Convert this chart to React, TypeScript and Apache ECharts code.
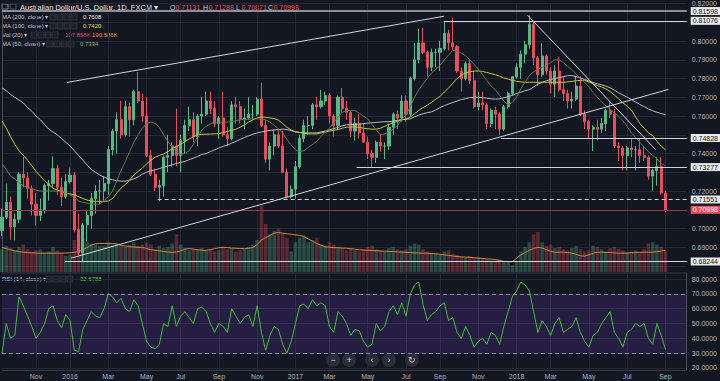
import React, { useEffect, useRef } from 'react';
import * as echarts from 'echarts';

// ---------- data (weekly) ----------
const START_WEEK = '2015-09-07';
const WEEK_COUNT = 162; // 157 weeks of prices + empty space on the right
const MONTHS = ['Jan', 'Feb', 'Mar', 'Apr', 'May', 'Jun', 'Jul', 'Aug', 'Sep', 'Oct', 'Nov', 'Dec'];

const OPEN = [
  0.6990, 0.7060, 0.7140, 0.7010, 0.7050, 0.7290, 0.7270, 0.7215, 0.7130, 0.7070,
  0.7100, 0.7230, 0.7240, 0.7320, 0.7220, 0.7170, 0.7250, 0.7285, 0.6995, 0.6870,
  0.7020, 0.7070, 0.7160, 0.7200, 0.7200, 0.7240, 0.7420, 0.7520, 0.7580, 0.7500,
  0.7650, 0.7580, 0.7730, 0.7680, 0.7600, 0.7390, 0.7290, 0.7220, 0.7230, 0.7380,
  0.7390, 0.7440, 0.7390, 0.7470, 0.7550, 0.7580, 0.7490, 0.7600, 0.7610, 0.7680,
  0.7640, 0.7560, 0.7590, 0.7500, 0.7480, 0.7660, 0.7650, 0.7580, 0.7590, 0.7610,
  0.7610, 0.7690, 0.7550, 0.7370, 0.7440, 0.7500, 0.7440, 0.7300, 0.7170, 0.7210,
  0.7330, 0.7480, 0.7550, 0.7550, 0.7660, 0.7650, 0.7680, 0.7710, 0.7600, 0.7550,
  0.7700, 0.7640, 0.7620, 0.7520, 0.7560, 0.7510, 0.7460, 0.7400, 0.7380, 0.7460,
  0.7440, 0.7440, 0.7540, 0.7610, 0.7590, 0.7680, 0.7610, 0.7800, 0.7900, 0.7990,
  0.7940, 0.7860, 0.7940, 0.7940, 0.7960, 0.8040, 0.7990, 0.7970, 0.7840, 0.7800,
  0.7880, 0.7790, 0.7650, 0.7670, 0.7660, 0.7560, 0.7630, 0.7610, 0.7530, 0.7650,
  0.7720, 0.7810, 0.7860, 0.7930, 0.7980, 0.8090, 0.7910, 0.7820, 0.7920, 0.7840,
  0.7770, 0.7840, 0.7740, 0.7720, 0.7680, 0.7690, 0.7760, 0.7610, 0.7570, 0.7530,
  0.7540, 0.7530, 0.7560, 0.7630, 0.7610, 0.7440, 0.7430, 0.7390, 0.7430, 0.7420,
  0.7420, 0.7390, 0.7380, 0.7280, 0.7310, 0.7330, 0.7190,
];
const HIGH = [
  0.7105, 0.7240, 0.7170, 0.7080, 0.7300, 0.7382, 0.7300, 0.7230, 0.7190, 0.7160,
  0.7240, 0.7260, 0.7385, 0.7340, 0.7270, 0.7290, 0.7325, 0.7300, 0.7080, 0.7030,
  0.7100, 0.7190, 0.7230, 0.7260, 0.7280, 0.7440, 0.7530, 0.7620, 0.7680, 0.7680,
  0.7670, 0.7740, 0.7835, 0.7720, 0.7700, 0.7420, 0.7320, 0.7260, 0.7390, 0.7500,
  0.7460, 0.7640, 0.7500, 0.7580, 0.7650, 0.7620, 0.7610, 0.7700, 0.7730, 0.7730,
  0.7680, 0.7600, 0.7730, 0.7540, 0.7680, 0.7700, 0.7680, 0.7640, 0.7700, 0.7660,
  0.7700, 0.7778, 0.7580, 0.7460, 0.7530, 0.7530, 0.7520, 0.7320, 0.7230, 0.7360,
  0.7500, 0.7580, 0.7600, 0.7670, 0.7700, 0.7740, 0.7730, 0.7720, 0.7610, 0.7710,
  0.7750, 0.7680, 0.7630, 0.7590, 0.7610, 0.7560, 0.7490, 0.7420, 0.7470, 0.7500,
  0.7460, 0.7560, 0.7620, 0.7630, 0.7710, 0.7710, 0.7810, 0.7990, 0.8065, 0.8070,
  0.7950, 0.7960, 0.7960, 0.8000, 0.8100, 0.8060, 0.8125, 0.7980, 0.7860, 0.7890,
  0.7900, 0.7840, 0.7730, 0.7730, 0.7670, 0.7640, 0.7650, 0.7620, 0.7660, 0.7730,
  0.7810, 0.7880, 0.7950, 0.8000, 0.8136, 0.8100, 0.7920, 0.7988, 0.7930, 0.7860,
  0.7870, 0.7917, 0.7810, 0.7740, 0.7730, 0.7810, 0.7813, 0.7630, 0.7580, 0.7550,
  0.7580, 0.7590, 0.7640, 0.7677, 0.7640, 0.7460, 0.7440, 0.7440, 0.7480, 0.7440,
  0.7480, 0.7440, 0.7390, 0.7320, 0.7380, 0.7380, 0.7200,
];
const LOW = [
  0.6960, 0.7050, 0.6940, 0.6937, 0.7030, 0.7220, 0.7160, 0.7070, 0.7016, 0.7040,
  0.7080, 0.7150, 0.7220, 0.7180, 0.7120, 0.7160, 0.7240, 0.6980, 0.6858, 0.6827,
  0.6930, 0.7000, 0.7080, 0.7130, 0.7150, 0.7180, 0.7390, 0.7400, 0.7480, 0.7490,
  0.7490, 0.7550, 0.7670, 0.7570, 0.7380, 0.7280, 0.7200, 0.7145, 0.7170, 0.7300,
  0.7330, 0.7330, 0.7300, 0.7400, 0.7520, 0.7460, 0.7440, 0.7560, 0.7600, 0.7610,
  0.7540, 0.7480, 0.7490, 0.7440, 0.7470, 0.7560, 0.7560, 0.7530, 0.7580, 0.7580,
  0.7600, 0.7540, 0.7350, 0.7310, 0.7390, 0.7430, 0.7300, 0.7160, 0.7160, 0.7160,
  0.7320, 0.7460, 0.7500, 0.7530, 0.7580, 0.7640, 0.7660, 0.7560, 0.7490, 0.7530,
  0.7620, 0.7580, 0.7490, 0.7470, 0.7480, 0.7460, 0.7370, 0.7330, 0.7350, 0.7410,
  0.7370, 0.7420, 0.7500, 0.7530, 0.7570, 0.7570, 0.7600, 0.7790, 0.7880, 0.7930,
  0.7810, 0.7840, 0.7860, 0.7840, 0.7950, 0.7950, 0.7950, 0.7830, 0.7730, 0.7790,
  0.7770, 0.7640, 0.7630, 0.7630, 0.7530, 0.7540, 0.7530, 0.7500, 0.7520, 0.7640,
  0.7710, 0.7800, 0.7800, 0.7880, 0.7960, 0.7870, 0.7760, 0.7810, 0.7820, 0.7720,
  0.7700, 0.7730, 0.7680, 0.7640, 0.7640, 0.7680, 0.7600, 0.7530, 0.7480, 0.7412,
  0.7470, 0.7510, 0.7520, 0.7590, 0.7430, 0.7360, 0.7310, 0.7310, 0.7380, 0.7310,
  0.7350, 0.7360, 0.7260, 0.7202, 0.7230, 0.7180, 0.7087,
];
const CLOSE = [
  0.7060, 0.7140, 0.7010, 0.7050, 0.7290, 0.7270, 0.7215, 0.7130, 0.7070, 0.7100,
  0.7230, 0.7240, 0.7320, 0.7220, 0.7170, 0.7250, 0.7285, 0.6995, 0.6870, 0.7020,
  0.7070, 0.7160, 0.7200, 0.7200, 0.7240, 0.7420, 0.7520, 0.7580, 0.7500, 0.7650,
  0.7580, 0.7730, 0.7680, 0.7600, 0.7390, 0.7290, 0.7220, 0.7230, 0.7380, 0.7390,
  0.7440, 0.7390, 0.7470, 0.7550, 0.7580, 0.7490, 0.7600, 0.7610, 0.7680, 0.7640,
  0.7560, 0.7590, 0.7500, 0.7480, 0.7660, 0.7650, 0.7580, 0.7590, 0.7610, 0.7610,
  0.7690, 0.7550, 0.7370, 0.7440, 0.7500, 0.7440, 0.7300, 0.7170, 0.7210, 0.7330,
  0.7480, 0.7550, 0.7550, 0.7660, 0.7650, 0.7680, 0.7710, 0.7600, 0.7550, 0.7700,
  0.7640, 0.7620, 0.7520, 0.7560, 0.7510, 0.7460, 0.7400, 0.7380, 0.7460, 0.7440,
  0.7440, 0.7540, 0.7610, 0.7590, 0.7680, 0.7610, 0.7800, 0.7900, 0.7990, 0.7940,
  0.7860, 0.7940, 0.7940, 0.7960, 0.8040, 0.7990, 0.7970, 0.7840, 0.7800, 0.7880,
  0.7790, 0.7650, 0.7670, 0.7660, 0.7560, 0.7630, 0.7610, 0.7530, 0.7650, 0.7720,
  0.7810, 0.7860, 0.7930, 0.7980, 0.8090, 0.7910, 0.7820, 0.7920, 0.7840, 0.7770,
  0.7840, 0.7740, 0.7720, 0.7680, 0.7690, 0.7760, 0.7610, 0.7570, 0.7530, 0.7540,
  0.7530, 0.7560, 0.7630, 0.7610, 0.7440, 0.7430, 0.7390, 0.7430, 0.7420, 0.7420,
  0.7390, 0.7380, 0.7280, 0.7310, 0.7330, 0.7190, 0.70998,
];
const MA200 = [
  0.7750, 0.7735, 0.7715, 0.7700, 0.7685, 0.7670, 0.7645, 0.7625, 0.7600, 0.7580,
  0.7555, 0.7530, 0.7515, 0.7500, 0.7480, 0.7460, 0.7440, 0.7415, 0.7390, 0.7365,
  0.7340, 0.7315, 0.7300, 0.7285, 0.7275, 0.7265, 0.7260, 0.7255, 0.7253, 0.7253,
  0.7258, 0.7265, 0.7275, 0.7290, 0.7300, 0.7308, 0.7313, 0.7320, 0.7327, 0.7333,
  0.7340, 0.7347, 0.7353, 0.7358, 0.7367, 0.7375, 0.7385, 0.7395, 0.7400, 0.7410,
  0.7420, 0.7430, 0.7438, 0.7445, 0.7455, 0.7465, 0.7475, 0.7485, 0.7495, 0.7503,
  0.7510, 0.7515, 0.7520, 0.7523, 0.7526, 0.7528, 0.7530, 0.7528, 0.7522, 0.7516,
  0.7513, 0.7511, 0.7510, 0.7510, 0.7510, 0.7515, 0.7520, 0.7526, 0.7533, 0.7540,
  0.7548, 0.7553, 0.7555, 0.7555, 0.7557, 0.7560, 0.7562, 0.7564, 0.7566, 0.7568,
  0.7570, 0.7570, 0.7573, 0.7577, 0.7580, 0.7583, 0.7585, 0.7595, 0.7605, 0.7612,
  0.7618, 0.7622, 0.7632, 0.7645, 0.7655, 0.7664, 0.7672, 0.7680, 0.7688, 0.7693,
  0.7698, 0.7700, 0.7700, 0.7698, 0.7695, 0.7692, 0.7690, 0.7692, 0.7697, 0.7703,
  0.7710, 0.7720, 0.7727, 0.7735, 0.7740, 0.7755, 0.7770, 0.7780, 0.7788, 0.7795,
  0.7800, 0.7805, 0.7810, 0.7815, 0.7816, 0.7810, 0.7803, 0.7795, 0.7787, 0.7779,
  0.7772, 0.7766, 0.7760, 0.7750, 0.7738, 0.7724, 0.7712, 0.7700, 0.7688, 0.7675,
  0.7662, 0.7650, 0.7638, 0.7628, 0.7620, 0.7613, 0.7608,
];
const MA100 = [
  0.7575, 0.7535, 0.7490, 0.7450, 0.7415, 0.7390, 0.7365, 0.7335, 0.7305, 0.7280,
  0.7255, 0.7235, 0.7215, 0.7205, 0.7198, 0.7190, 0.7185, 0.7180, 0.7170, 0.7160,
  0.7152, 0.7147, 0.7145, 0.7145, 0.7145, 0.7147, 0.7160, 0.7190, 0.7216, 0.7235,
  0.7258, 0.7285, 0.7305, 0.7322, 0.7345, 0.7365, 0.7380, 0.7390, 0.7398, 0.7410,
  0.7425, 0.7437, 0.7450, 0.7463, 0.7477, 0.7490, 0.7500, 0.7502, 0.7503, 0.7504,
  0.7505, 0.7506, 0.7512, 0.7518, 0.7524, 0.7530, 0.7540, 0.7553, 0.7568, 0.7580,
  0.7590, 0.7595, 0.7593, 0.7590, 0.7586, 0.7578, 0.7560, 0.7540, 0.7525, 0.7516,
  0.7512, 0.7508, 0.7505, 0.7505, 0.7505, 0.7510, 0.7515, 0.7520, 0.7524, 0.7528,
  0.7535, 0.7540, 0.7542, 0.7542, 0.7540, 0.7535, 0.7532, 0.7530, 0.7530, 0.7535,
  0.7545, 0.7555, 0.7565, 0.7572, 0.7580, 0.7584, 0.7595, 0.7612, 0.7630, 0.7645,
  0.7658, 0.7673, 0.7690, 0.7705, 0.7728, 0.7750, 0.7775, 0.7800, 0.7818, 0.7830,
  0.7836, 0.7840, 0.7840, 0.7838, 0.7832, 0.7826, 0.7820, 0.7812, 0.7803, 0.7797,
  0.7790, 0.7785, 0.7782, 0.7780, 0.7780, 0.7780, 0.7780, 0.7780, 0.7780, 0.7780,
  0.7780, 0.7780, 0.7780, 0.7782, 0.7785, 0.7788, 0.7790, 0.7790, 0.7782, 0.7772,
  0.7762, 0.7755, 0.7745, 0.7730, 0.7712, 0.7692, 0.7670, 0.7652, 0.7632, 0.7595,
  0.7560, 0.7535, 0.7510, 0.7495, 0.7465, 0.7440, 0.7420,
];
const MA50 = [
  0.7345, 0.7315, 0.7280, 0.7265, 0.7245, 0.7228, 0.7220, 0.7212, 0.7205, 0.7200,
  0.7200, 0.7200, 0.7200, 0.7200, 0.7198, 0.7190, 0.7180, 0.7170, 0.7147, 0.7140,
  0.7135, 0.7130, 0.7130, 0.7130, 0.7150, 0.7170, 0.7200, 0.7255, 0.7310, 0.7358,
  0.7410, 0.7460, 0.7500, 0.7535, 0.7560, 0.7568, 0.7560, 0.7540, 0.7500, 0.7465,
  0.7435, 0.7410, 0.7395, 0.7400, 0.7415, 0.7450, 0.7490, 0.7525, 0.7545, 0.7558,
  0.7566, 0.7568, 0.7568, 0.7568, 0.7570, 0.7575, 0.7580, 0.7582, 0.7584, 0.7585,
  0.7585, 0.7584, 0.7580, 0.7568, 0.7550, 0.7532, 0.7510, 0.7475, 0.7445, 0.7420,
  0.7410, 0.7415, 0.7432, 0.7448, 0.7465, 0.7490, 0.7515, 0.7535, 0.7565, 0.7595,
  0.7620, 0.7628, 0.7630, 0.7630, 0.7615, 0.7600, 0.7584, 0.7555, 0.7525, 0.7500,
  0.7505, 0.7515, 0.7530, 0.7550, 0.7580, 0.7605, 0.7650, 0.7700, 0.7740, 0.7770,
  0.7800, 0.7830, 0.7850, 0.7870, 0.7900, 0.7925, 0.7950, 0.7948, 0.7935, 0.7922,
  0.7900, 0.7875, 0.7850, 0.7820, 0.7790, 0.7760, 0.7740, 0.7710, 0.7680, 0.7660,
  0.7672, 0.7700, 0.7745, 0.7780, 0.7816, 0.7835, 0.7850, 0.7860, 0.7870, 0.7885,
  0.7900, 0.7900, 0.7885, 0.7865, 0.7847, 0.7825, 0.7800, 0.7780, 0.7755, 0.7725,
  0.7700, 0.7675, 0.7655, 0.7635, 0.7615, 0.7600, 0.7575, 0.7545, 0.7510, 0.7485,
  0.7460, 0.7435, 0.7410, 0.7390, 0.7372, 0.7348, 0.7334,
];
const VOLUME = [
  200, 230, 210, 190, 220, 240, 200, 180, 190, 200,
  170, 180, 220, 190, 170, 140, 150, 280, 320, 300,
  260, 250, 240, 230, 230, 260, 240, 250, 230, 220,
  240, 260, 230, 240, 260, 240, 200, 230, 210, 220,
  250, 330, 240, 210, 190, 200, 200, 210, 190, 200,
  180, 190, 220, 200, 210, 180, 190, 200, 220, 240,
  280, 580, 420, 330, 360, 380, 340, 300, 180, 260,
  300, 320, 260, 280, 300, 240, 230, 260, 240, 220,
  210, 190, 200, 190, 180, 200, 220, 230, 200, 190,
  180, 210, 220, 200, 190, 200, 230, 250, 240, 200,
  180, 170, 160, 150, 180, 190, 160, 150, 140, 130,
  140, 120, 130, 120, 110, 100, 100, 110, 90, 80,
  60, 90, 180, 220, 260, 330, 350, 260, 230, 240,
  210, 220, 200, 190, 210, 230, 200, 180, 190, 230,
  220, 200, 180, 210, 220, 200, 190, 170, 180, 190,
  170, 200, 250, 260, 240, 220, 180,
];
const VOLUME_MA = [
  215, 205, 195, 185, 178, 173, 170, 168, 166, 165,
  165, 165, 165, 165, 165, 166, 168, 172, 180, 195,
  215, 235, 248, 250, 250, 250, 250, 245, 234, 228,
  222, 218, 216, 216, 205, 195, 190, 185, 180, 175,
  172, 175, 185, 200, 205, 200, 195, 190, 190, 195,
  205, 212, 216, 214, 210, 208, 206, 205, 208, 215,
  240, 280, 300, 320, 340, 346, 340, 335, 330, 325,
  320, 310, 290, 270, 250, 235, 220, 216, 214, 212,
  210, 208, 205, 200, 195, 192, 190, 188, 186, 184,
  182, 180, 178, 176, 174, 172, 170, 168, 166, 165,
  164, 162, 160, 155, 150, 145, 140, 135, 132, 130,
  128, 125, 122, 118, 115, 112, 110, 100, 92, 88,
  90, 120, 150, 170, 190, 205, 216, 210, 195, 180,
  173, 173, 173, 170, 165, 155, 142, 139, 150, 165,
  172, 173, 172, 170, 168, 165, 165, 166, 168, 170,
  172, 173, 173, 174, 178, 184, 190,
];
const RSI = [
  30, 50, 40, 42, 68, 62, 55, 48, 40, 44,
  50, 60, 62, 52, 47, 56, 52, 32, 31, 46,
  52, 58, 55, 54, 60, 70, 68, 64, 67, 60,
  58, 66, 62, 50, 38, 34, 33, 36, 50, 48,
  62, 48, 55, 58, 54, 50, 60, 61, 58, 50,
  44, 50, 48, 44, 60, 55, 50, 54, 56, 48,
  62, 44, 32, 42, 48, 46, 36, 30, 38, 50,
  62, 63, 60, 66, 62, 64, 62, 48, 44, 58,
  55, 50, 42, 46, 45, 38, 34, 36, 50, 45,
  48, 58, 62, 56, 64, 55, 70, 76, 78, 63,
  52, 56, 58, 62, 64, 52, 54, 44, 40, 48,
  42, 34, 38, 40, 36, 44, 42, 36, 48, 58,
  68, 72, 78, 76, 72, 58, 44, 52, 48, 42,
  50, 54, 44, 46, 48, 54, 44, 38, 34, 42,
  44, 50, 54, 58, 44, 40, 34, 44, 46, 50,
  48, 50, 40, 36, 50, 42, 32.68,
];
// drawn trendlines: [weekIndex, price] pairs
const UPPER_CHANNEL = [[15.3, 0.7779], [103.9, 0.8132]];
const LOWER_CHANNEL = [[16.2, 0.6842], [156.7, 0.7742]];
const DOWN_TREND = [[123.6, 0.8137], [153.7, 0.7421]];
// horizontal levels: [startWeekIndex, price]
const LEVELS = [
  { start: 0, price: 0.81598, kind: 'grey' },
  { start: 103.9, price: 0.81076, kind: 'white' },
  { start: 117.3, price: 0.74828, kind: 'white' },
  { start: 83.4, price: 0.73277, kind: 'white' },
  { start: 36.6, price: 0.71551, kind: 'dashed' },
  { start: 0, price: 0.70998, kind: 'last' },
  { start: 14.8, price: 0.68244, kind: 'white' },
];

// ---------- styling ----------
const BG = '#131722';
const GRID = '#242835';
const UP = '#53b987';
const DOWN = '#eb4d5c';
const TXT = '#b2b5be';
const FONT = '"Liberation Sans", Arial, sans-serif';

const DAY = 86400000;
const t0 = Date.parse(START_WEEK + 'T00:00:00Z');
const weekDates: Date[] = [];
for (let i = 0; i < WEEK_COUNT; i++) weekDates.push(new Date(t0 + i * 7 * DAY));
const categories = weekDates.map((d) => d.toISOString().slice(0, 10));
const monthLabels: (string | null)[] = weekDates.map((m) => {
  const f = new Date(m.getTime() + 4 * DAY);
  let mon = -1;
  if (f.getUTCMonth() !== m.getUTCMonth()) mon = f.getUTCMonth();
  else if (m.getUTCDate() <= 3) mon = m.getUTCMonth();
  if (mon < 0 || mon % 2 !== 0) return null;
  return mon === 0 ? String(f.getUTCFullYear()) : MONTHS[mon];
});
const isLabel = (idx: number) => monthLabels[idx] != null;
// axis labels that sit under a level's price box are hidden, as in the reference
const coveredByLevel = (v: number) => LEVELS.some((lv) => Math.abs(lv.price - v) < 0.004);

function buildOption() {
  const candles = CLOSE.map((c, i) => [OPEN[i], c, LOW[i], HIGH[i]]);
  const vols = VOLUME.map((v, i) => ({
    value: v,
    itemStyle: { color: CLOSE[i] >= OPEN[i] ? 'rgba(83,185,135,0.32)' : 'rgba(235,77,92,0.32)' },
  }));
  const lineSeries = (name: string, data: number[], color: string, yIdx = 0, z = 4) => ({
    name, type: 'line', xAxisIndex: 0, yAxisIndex: yIdx, data, symbol: 'none', z,
    lineStyle: { color, width: 1 }, silent: true,
  });
  const trend = (data: number[][]) => ({
    type: 'line', xAxisIndex: 2, yAxisIndex: 0, data, symbol: 'none', z: 6, silent: true,
    lineStyle: { color: '#d1d4dc', width: 1 },
  });
  const levelSeries = LEVELS.map((lv) => {
    const isLast = lv.kind === 'last';
    const lineColor = isLast ? '#9c3542' : lv.kind === 'grey' ? '#8d9099' : '#d1d4dc';
    return {
      type: 'line', xAxisIndex: 2, yAxisIndex: 0, data: [], z: 6, silent: true,
      markLine: {
        silent: true, symbol: 'none', animation: false,
        lineStyle: { color: lineColor, width: lv.kind === 'grey' ? 2 : 1, type: lv.kind === 'dashed' ? [4, 3] : 'solid' },
        label: {
          show: true, position: 'end', distance: 4, formatter: lv.price.toFixed(5),
          fontSize: 7, fontFamily: FONT, padding: [1, 2, 0, 2],
          color: isLast ? '#ffffff' : '#131722', backgroundColor: isLast ? DOWN : '#e8e9ec',
        },
        data: [[{ coord: [lv.start, lv.price] }, { coord: [WEEK_COUNT - 1, lv.price] }]],
      },
    };
  });

  const g: any[] = [];
  const text = (x: number, y: number, t: string, fill: string, size = 6, extra: any = {}) =>
    g.push({ type: 'text', x, y, silent: true, style: { text: t, fill, fontSize: size, fontFamily: FONT, verticalAlign: 'middle', ...extra } });
  const boxes = (x: number, y: number) => {
    for (let k = 0; k < 4; k++)
      g.push({ type: 'rect', silent: true, shape: { x: x + k * 7, y: y - 3, width: 6, height: 6 }, style: { fill: '#1e222d', stroke: '#3a3e4a', lineWidth: 0.6 } });
  };
  // header
  g.push({ type: 'rect', silent: true, shape: { x: 2, y: 4, width: 6, height: 5 }, style: { fill: 'none', stroke: '#9598a1', lineWidth: 0.8 } });
  g.push({ type: 'rect', silent: true, shape: { x: 10, y: 4, width: 6, height: 5 }, style: { fill: 'none', stroke: '#5d606b', lineWidth: 0.8 } });
  text(20, 7, 'Australian Dollar/U.S. Dollar, 1D, FXCM ▾', '#e0e3eb', 7.5);
  const ohlc = [['O', '0.71131', 170], ['H', '0.71288', 203], ['L', '0.70871', 236], ['C', '0.70998', 268]];
  ohlc.forEach(([k, v, x]) => {
    text(x as number, 7, k as string, '#c8cad0', 7);
    text((x as number) + 5.5, 7, v as string, DOWN, 7);
  });
  const rows = [
    { y: 17, label: 'MA (200, close) ▾', bx: 50, vals: [[83, '0.7608', '#e8e9ec']] },
    { y: 26, label: 'MA (100, close) ▾', bx: 50, vals: [[83, '0.7420', '#e8e33a']] },
    { y: 35, label: 'Vol (20) ▾', bx: 31, vals: [[65, '107.858K', '#d8505f'], [92, '190.586K', '#f0883e']] },
    { y: 44, label: 'MA (50, close) ▾', bx: 47, vals: [[80, '0.7334', '#8fae78']] },
    { y: 279, label: 'RSI (14, close) ▾', bx: 46, vals: [[80, '32.6788', '#44d13c']] },
  ];
  rows.forEach((r) => {
    text(2, r.y, r.label, '#c3c6ce', 6);
    boxes(r.bx, r.y);
    r.vals.forEach(([x, t, c]) => text(x as number, r.y, t as string, c as string, 6));
  });
  // navigation buttons
  const nav = [[333, '−'], [349, '+'], [372, '‹'], [389, '›'], [412, '↻']];
  nav.forEach(([x, t]) => {
    g.push({ type: 'circle', silent: true, shape: { cx: x, cy: 360, r: 7 }, style: { fill: '#2a2e39' } });
    text(x as number, 360, t as string, '#d1d4dc', 9, { align: 'center' });
  });

  return {
    animation: false,
    backgroundColor: BG,
    textStyle: { fontFamily: FONT },
    grid: [
      { left: 2, top: 0, width: 694.6, height: 272 },
      { left: 2, top: 273, width: 694.6, height: 97 },
    ],
    xAxis: [
      {
        type: 'category', gridIndex: 0, data: categories, boundaryGap: false,
        axisLine: { show: false }, axisTick: { show: false }, axisLabel: { show: false },
        splitLine: { show: true, interval: isLabel, lineStyle: { color: GRID, width: 1 } },
      },
      {
        type: 'category', gridIndex: 1, data: categories, boundaryGap: false,
        axisLine: { show: true, lineStyle: { color: '#363a45' } }, axisTick: { show: false },
        axisLabel: { interval: isLabel, formatter: (_v: string, i: number) => monthLabels[i] || '', fontSize: 7, color: TXT, margin: 3 },
        splitLine: { show: true, interval: isLabel, lineStyle: { color: GRID, width: 1 } },
      },
      { type: 'value', gridIndex: 0, min: 0, max: WEEK_COUNT - 1, show: false },
    ],
    yAxis: [
      {
        type: 'value', gridIndex: 0, position: 'right', min: 0.67684, max: 0.82,
        splitNumber: 14, minInterval: 0.01, maxInterval: 0.01,
        axisLine: { show: true, lineStyle: { color: '#4a4e5a' } }, axisTick: { show: false },
        axisLabel: {
          fontSize: 7, color: TXT, margin: 5, showMinLabel: false,
          formatter: (v: number) => (coveredByLevel(v) ? '' : v.toFixed(5)),
        },
        splitLine: { show: true, lineStyle: { color: GRID } },
      },
      { type: 'value', gridIndex: 0, min: 0, max: 2350, show: false },
      {
        type: 'value', gridIndex: 1, position: 'right', min: 18.65, max: 84.05,
        splitNumber: 6, minInterval: 10, maxInterval: 10,
        axisLine: { show: true, lineStyle: { color: '#4a4e5a' } }, axisTick: { show: false },
        axisLabel: { fontSize: 7, color: TXT, margin: 5, showMinLabel: false, showMaxLabel: false, formatter: (v: number) => v.toFixed(4) },
        splitLine: { show: true, lineStyle: { color: GRID } },
      },
    ],
    series: [
      { type: 'bar', xAxisIndex: 0, yAxisIndex: 1, data: vols, barWidth: 3.6, z: 1, silent: true },
      lineSeries('VolMA', VOLUME_MA, '#d9823b', 1, 2),
      {
        type: 'candlestick', xAxisIndex: 0, yAxisIndex: 0, data: candles, barWidth: 2.6, z: 3, silent: true,
        itemStyle: { color: UP, color0: DOWN, borderColor: UP, borderColor0: DOWN, borderWidth: 1 },
      },
      lineSeries('MA200', MA200, '#b9bbc2'),
      lineSeries('MA100', MA100, '#c9c62b'),
      lineSeries('MA50', MA50, '#5f7a4c'),
      trend(UPPER_CHANNEL),
      trend(LOWER_CHANNEL),
      trend(DOWN_TREND),
      ...levelSeries,
      {
        type: 'line', xAxisIndex: 1, yAxisIndex: 2, data: RSI, symbol: 'none', z: 4, silent: true,
        lineStyle: { color: '#3fbf34', width: 1 },
        markArea: { silent: true, itemStyle: { color: 'rgba(103,58,183,0.22)' }, data: [[{ yAxis: 30 }, { yAxis: 70 }]] },
        markLine: {
          silent: true, symbol: 'none', label: { show: false },
          lineStyle: { color: '#8a8d96', type: [4, 3], width: 1 },
          data: [{ yAxis: 70 }, { yAxis: 30 }],
        },
      },
    ],
    graphic: { elements: g },
  };
}

export default function App() {
  const ref = useRef<HTMLDivElement>(null);
  useEffect(() => {
    document.body.style.margin = '0';
    document.body.style.background = BG;
    const chart = echarts.init(ref.current!, null, { renderer: 'svg' });
    chart.setOption(buildOption() as any);
    return () => chart.dispose();
  }, []);
  return <div ref={ref} style={{ width: 720, height: 381 }} />;
}
